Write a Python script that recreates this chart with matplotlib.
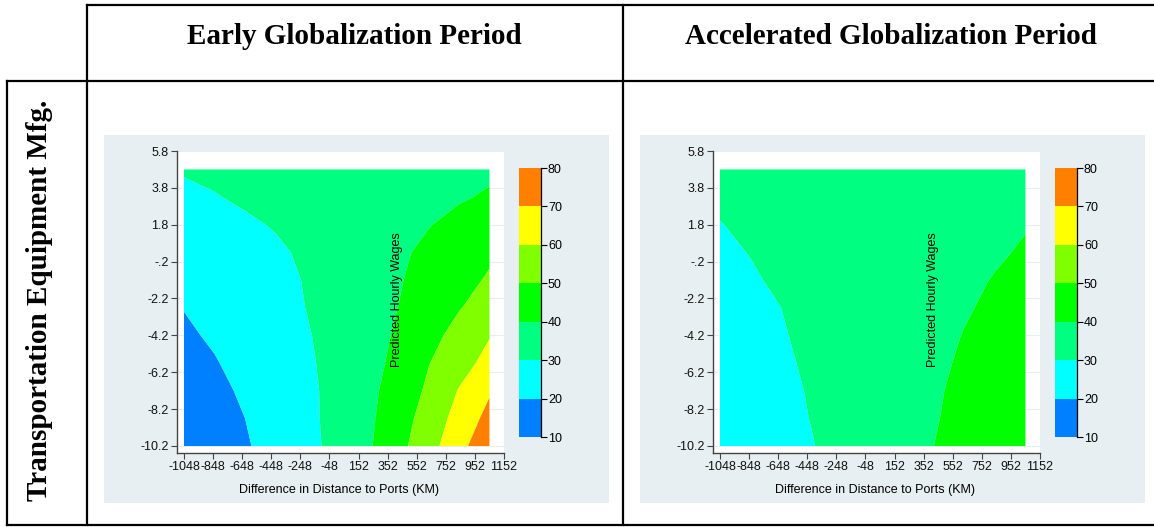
import numpy as np
import matplotlib
matplotlib.use("Agg")
import matplotlib.pyplot as plt
from matplotlib.patches import Rectangle
from matplotlib.lines import Line2D

plt.rcParams['font.family'] = 'Liberation Sans'
plt.rcParams['font.size'] = 9

W, H = 1154, 527

# grid of the contour surfaces
dist_diff = [-1048, -838, -628, -418, -208, 2, 212, 422, 632, 842, 1052]
wage_diff = [4.8, 3.3, 1.8, 0.3, -1.2, -2.7, -4.2, -5.7, -7.2, -8.7, -10.2]

# predicted hourly wages, rows follow wage_diff, columns follow dist_diff
early_wages = [
    [31.0, 32.0, 33.0, 34.0, 34.5, 35.0, 35.5, 36.0, 37.0, 38.0, 38.8],
    [27.5, 29.5, 31.5, 33.0, 34.0, 35.0, 36.0, 37.0, 38.0, 39.3, 40.8],
    [24.0, 26.0, 28.5, 30.7, 33.0, 35.0, 36.5, 38.0, 39.7, 42.0, 44.0],
    [22.5, 24.0, 26.0, 28.5, 31.5, 34.0, 36.5, 38.8, 41.5, 45.0, 48.5],
    [21.5, 23.0, 25.0, 27.5, 30.5, 33.5, 36.5, 39.3, 43.0, 47.0, 51.0],
    [20.2, 22.0, 24.0, 27.0, 30.1, 33.5, 36.5, 40.0, 44.5, 49.5, 54.0],
    [18.8, 21.0, 23.5, 26.5, 29.3, 33.0, 36.8, 41.0, 47.0, 53.0, 59.5],
    [17.5, 19.5, 22.5, 25.5, 28.8, 32.5, 36.5, 42.5, 49.6, 56.3, 63.0],
    [16.0, 18.3, 21.0, 24.5, 28.3, 32.3, 37.5, 44.0, 51.5, 60.5, 69.0],
    [15.0, 17.3, 20.0, 24.0, 28.0, 32.5, 38.0, 45.5, 54.0, 63.5, 73.0],
    [14.0, 16.5, 19.2, 23.0, 27.5, 32.5, 38.5, 47.0, 56.0, 67.0, 77.0],
]

accel_wages = [
    [32.5, 33.5, 34.0, 34.5, 35.0, 35.0, 35.5, 36.0, 36.5, 37.0, 38.0],
    [31.2, 32.3, 33.2, 34.0, 34.5, 35.0, 35.5, 36.2, 37.0, 38.0, 39.0],
    [29.8, 31.3, 32.5, 33.5, 34.3, 35.0, 35.7, 36.5, 37.5, 38.7, 39.7],
    [28.8, 30.2, 31.8, 33.0, 34.0, 35.0, 36.0, 37.0, 38.2, 39.3, 40.6],
    [27.8, 29.3, 31.0, 32.5, 33.8, 35.0, 36.2, 37.5, 38.8, 40.3, 42.0],
    [27.0, 28.5, 30.0, 32.0, 33.6, 35.0, 36.5, 38.0, 39.5, 41.0, 43.0],
    [26.0, 27.8, 29.5, 31.5, 33.3, 35.0, 36.7, 38.4, 40.2, 42.0, 44.0],
    [25.3, 27.2, 29.0, 31.0, 33.0, 35.0, 36.9, 38.8, 40.8, 42.8, 45.0],
    [24.5, 26.5, 28.5, 30.5, 32.8, 35.0, 37.1, 39.2, 41.5, 43.8, 46.0],
    [24.0, 26.0, 28.0, 30.2, 32.6, 35.0, 37.3, 39.5, 42.0, 44.5, 47.0],
    [23.3, 25.5, 27.5, 29.7, 32.3, 35.0, 37.5, 40.0, 42.5, 45.2, 48.0],
]

levels = [10, 20, 30, 40, 50, 60, 70, 80]
level_colors = ['#0080FF', '#00FFFF', '#00FF80', '#00FF00', '#80FF00', '#FFFF00', '#FF8000']

x_ticks = [-1048, -848, -648, -448, -248, -48, 152, 352, 552, 752, 952, 1152]
y_ticks = [5.8, 3.8, 1.8, -0.2, -2.2, -4.2, -6.2, -8.2, -10.2]
y_labels = ['5.8', '3.8', '1.8', '-.2', '-2.2', '-4.2', '-6.2', '-8.2', '-10.2']

period_titles = ['Early Globalization Period', 'Accelerated Globalization Period']
row_title = 'Transportation Equipment Mfg.'

bg = '#E8EFF2'


def rect(x0, y0, x1, y1):
    # pixel box (top-left origin) -> figure fraction
    return [x0 / W, 1 - y1 / H, (x1 - x0) / W, (y1 - y0) / H]


fig = plt.figure(figsize=(W / 100, H / 100), dpi=100)

# table frame
def hline(y, x0, x1):
    fig.add_artist(Line2D([x0 / W, x1 / W], [1 - y / H, 1 - y / H], color='black', lw=1.6))

def vline(x, y0, y1):
    fig.add_artist(Line2D([x / W, x / W], [1 - y0 / H, 1 - y1 / H], color='black', lw=1.6))

hline(5, 87, 1154)
hline(81, 7, 1154)
hline(525, 7, 1154)
vline(7, 81, 525)
vline(87, 5, 525)
vline(623, 5, 525)

fig.text(354 / W, 1 - 37 / H, period_titles[0], family='Liberation Serif', weight='bold',
         fontsize=21, ha='center', va='center')
fig.text(891 / W, 1 - 37 / H, period_titles[1], family='Liberation Serif', weight='bold',
         fontsize=21, ha='center', va='center')
fig.text(40 / W, 1 - 300 / H, row_title, family='Liberation Serif', weight='bold',
         fontsize=21, ha='center', va='center', rotation=90)

panels = [
    dict(bg=(104, 135, 609, 503), ax=(177, 151, 504, 453), cb=(519, 168, 541, 437),
         zlab=397, xlab=339, data=early_wages),
    dict(bg=(640, 135, 1145, 503), ax=(713, 151, 1040, 453), cb=(1055, 168, 1077, 437),
         zlab=933, xlab=875, data=accel_wages),
]

X, Y = np.meshgrid(dist_diff, wage_diff)

for p in panels:
    x0, y0, x1, y1 = p['bg']
    fig.add_artist(Rectangle((x0 / W, 1 - y1 / H), (x1 - x0) / W, (y1 - y0) / H,
                             transform=fig.transFigure, facecolor=bg, edgecolor='none', zorder=0))

    ax = fig.add_axes(rect(*p['ax']))
    ax.set_facecolor('white')
    cs = ax.contourf(X, Y, np.array(p['data']), levels=levels, colors=level_colors,
                     antialiased=True, zorder=2)
    ax.set_xlim(-1096, 1152)
    ax.set_ylim(-10.58, 5.8)
    ax.set_xticks(x_ticks)
    ax.set_xticklabels([str(t) for t in x_ticks])
    ax.set_yticks(y_ticks)
    ax.set_yticklabels(y_labels)
    for yt in y_ticks:
        ax.axhline(yt, color='#E6EEF1', lw=0.8, zorder=1)
    for s in ['top', 'right']:
        ax.spines[s].set_visible(False)
    for s in ['left', 'bottom']:
        ax.spines[s].set_color('#444444')
        ax.spines[s].set_linewidth(1.0)
    ax.tick_params(direction='out', length=4, width=0.8, color='#444444', pad=2,
                   labelsize=9, labelcolor='#111111')

    fig.text(p['xlab'] / W, 1 - 490 / H, 'Difference in Distance to Ports (KM)',
             ha='center', va='center', fontsize=9)
    fig.text(p['zlab'] / W, 1 - 300 / H, 'Predicted Hourly Wages', rotation=90,
             ha='center', va='center', fontsize=9)

    cax = fig.add_axes(rect(*p['cb']))
    cb = fig.colorbar(cs, cax=cax, ticks=levels)
    cb.outline.set_visible(False)
    cax.spines['right'].set_visible(True)
    cax.spines['right'].set_color('black')
    cax.spines['right'].set_linewidth(0.9)
    cax.tick_params(direction='out', length=4, width=0.8, pad=1, labelsize=9)

fig.savefig('out.png', dpi=100)
